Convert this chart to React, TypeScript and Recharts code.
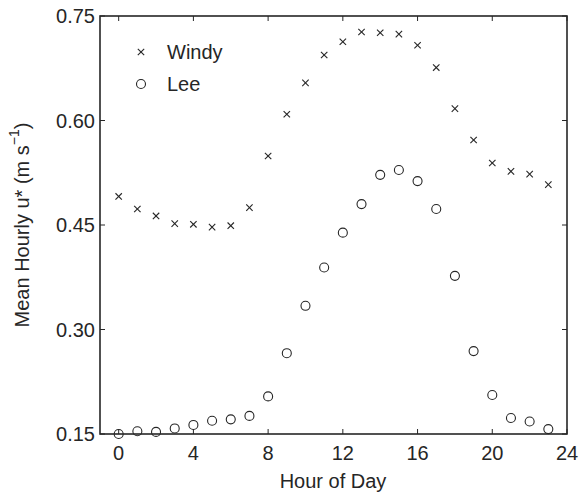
import React from 'react'
import { ScatterChart, Scatter, XAxis, YAxis } from 'recharts'

const hours = [0, 1, 2, 3, 4, 5, 6, 7, 8, 9, 10, 11, 12, 13, 14, 15, 16, 17, 18, 19, 20, 21, 22, 23]
const windy = [0.491, 0.473, 0.463, 0.452, 0.451, 0.447, 0.449, 0.475, 0.549, 0.609, 0.654, 0.694, 0.713, 0.727, 0.726, 0.724, 0.708, 0.676, 0.617, 0.572, 0.539, 0.527, 0.523, 0.508]
const lee = [0.15, 0.154, 0.153, 0.158, 0.163, 0.169, 0.171, 0.176, 0.204, 0.266, 0.334, 0.389, 0.439, 0.48, 0.522, 0.529, 0.513, 0.473, 0.377, 0.269, 0.206, 0.173, 0.168, 0.157]
const xTicks = [0, 4, 8, 12, 16, 20, 24]
const yTicks = [0.15, 0.3, 0.45, 0.6, 0.75]

const xDom = [-1, 24]
const yDom = [0.15, 0.75]
const ink = '#262626'
const font = '"Liberation Sans", Arial, sans-serif'

const windyData = hours.map((h, i) => ({ hour: h, u: windy[i] }))
const leeData = hours.map((h, i) => ({ hour: h, u: lee[i] }))

// plot box (from the chart margins + axis sizes below)
const box = { l: 100, t: 16, r: 567, b: 434 }
const px = (h: number) => box.l + ((h - xDom[0]) / (xDom[1] - xDom[0])) * (box.r - box.l)
const py = (v: number) => box.b - ((v - yDom[0]) / (yDom[1] - yDom[0])) * (box.b - box.t)

const Cross = (props: any) => {
  const { cx, cy } = props
  const s = 3.2
  return (
    <g stroke={ink} strokeWidth={1.1}>
      <line x1={cx - s} y1={cy - s} x2={cx + s} y2={cy + s} />
      <line x1={cx - s} y1={cy + s} x2={cx + s} y2={cy - s} />
    </g>
  )
}

const Ring = (props: any) => {
  const { cx, cy } = props
  return <circle cx={cx} cy={cy} r={4.5} fill="none" stroke={ink} strokeWidth={1.1} />
}

const YLabel = () => (
  <text x={22} y={225} transform="rotate(-90 22 225)" textAnchor="middle" dominantBaseline="central"
    fill={ink} fontSize={20} fontFamily={font}>
    Mean Hourly u* (m s<tspan dy={-8} fontSize={14}>−1</tspan><tspan dy={8}>)</tspan>
  </text>
)

const XLabel = () => (
  <text x={333} y={481} textAnchor="middle" dominantBaseline="central" fill={ink} fontSize={20} fontFamily={font}>
    Hour of Day
  </text>
)

const Frame = () => (
  <svg width={580} height={494} style={{ position: 'absolute', left: 0, top: 0, pointerEvents: 'none' }}>
    <rect x={box.l} y={box.t} width={box.r - box.l} height={box.b - box.t} fill="none" stroke={ink} strokeWidth={1.6} />
    {xTicks.map(t => (
      <g key={'x' + t} stroke={ink} strokeWidth={1}>
        <line x1={px(t)} y1={box.b} x2={px(t)} y2={box.b - 5} />
        <line x1={px(t)} y1={box.t} x2={px(t)} y2={box.t + 5} />
      </g>
    ))}
    {yTicks.map(t => (
      <g key={'y' + t} stroke={ink} strokeWidth={1}>
        <line x1={box.l} y1={py(t)} x2={box.l + 5} y2={py(t)} />
        <line x1={box.r} y1={py(t)} x2={box.r - 5} y2={py(t)} />
      </g>
    ))}
  </svg>
)

const series = [{ name: 'Windy', M: Cross }, { name: 'Lee', M: Ring }]

export default function App() {
  const tickStyle = { fill: ink, fontSize: 20, fontFamily: font }
  return (
    <div style={{ position: 'absolute', left: 0, top: 0, width: 580, height: 494, background: '#fff' }}>
      <ScatterChart width={580} height={494} margin={{ top: 16, right: 13, left: 40, bottom: 30 }}>
        <XAxis type="number" dataKey="hour" domain={xDom} ticks={xTicks}
          tick={tickStyle} axisLine={false} tickLine={false} tickSize={0} tickMargin={12} label={<XLabel />} />
        <YAxis type="number" dataKey="u" domain={yDom} ticks={yTicks}
          tickFormatter={(v: number) => v.toFixed(2)} tick={tickStyle} axisLine={false} tickLine={false}
          tickSize={0} tickMargin={5} label={<YLabel />} />
        <Scatter name="Windy" data={windyData} shape={<Cross />} isAnimationActive={false} />
        <Scatter name="Lee" data={leeData} shape={<Ring />} isAnimationActive={false} />
      </ScatterChart>
      <Frame />
      <div style={{ position: 'absolute', left: 131, top: 36, fontFamily: font, fontSize: 20, color: ink }}>
        {series.map(({ name, M }) => (
          <div key={name} style={{ display: 'flex', alignItems: 'center', height: 32 }}>
            <svg width={20} height={20}><M cx={10} cy={10} /></svg>
            <span style={{ marginLeft: 16 }}>{name}</span>
          </div>
        ))}
      </div>
    </div>
  )
}
